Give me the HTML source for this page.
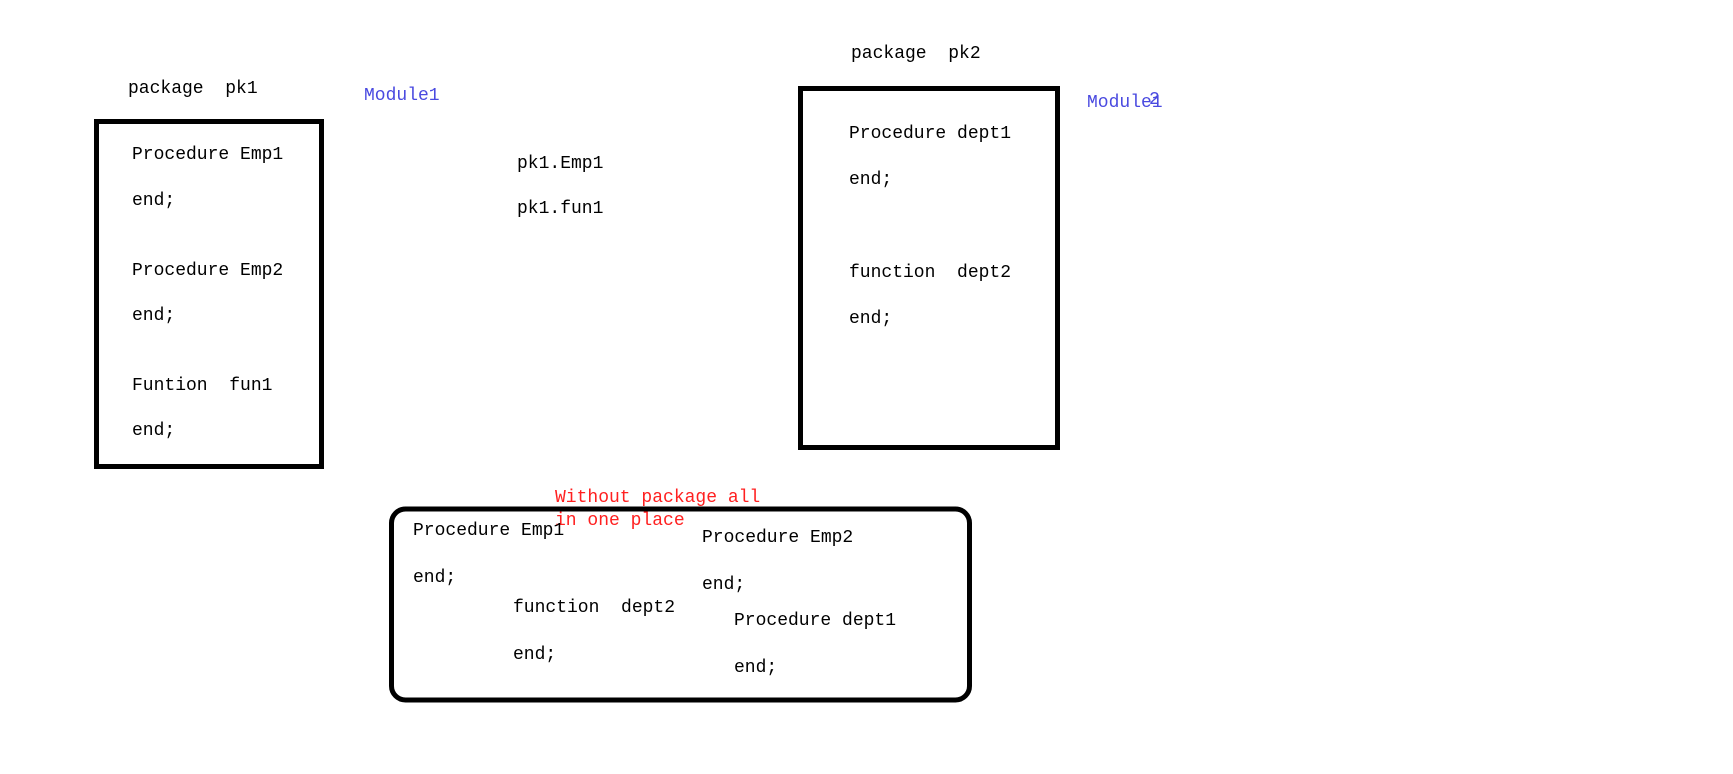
<!DOCTYPE html>
<html><head><meta charset="utf-8"><style>
html,body{margin:0;padding:0;background:#fff;}
svg{display:block;}
text{font-family:"Liberation Mono",monospace;font-size:18px;fill:#000;white-space:pre;}
.b{fill:#4a4ae0;}
.r{fill:#ff2020;}
</style></head><body>
<svg width="1733" height="774" viewBox="0 0 1733 774" xmlns="http://www.w3.org/2000/svg" xml:space="preserve">
<rect x="96.5" y="121.5" width="225" height="345" fill="none" stroke="#000" stroke-width="5"/>
<rect x="800.5" y="88.5" width="257" height="359" fill="none" stroke="#000" stroke-width="5"/>
<rect x="391.5" y="509" width="578" height="191" rx="14" fill="none" stroke="#000" stroke-width="5"/>

<text x="128" y="93">package  pk1</text>
<text x="364" y="100" class="b">Module1</text>
<text x="132" y="159">Procedure Emp1</text>
<text x="132" y="205">end;</text>
<text x="132" y="275">Procedure Emp2</text>
<text x="132" y="320">end;</text>
<text x="132" y="390">Funtion  fun1</text>
<text x="132" y="435">end;</text>

<text x="517" y="168">pk1.Emp1</text>
<text x="517" y="213">pk1.fun1</text>

<text x="851" y="58">package  pk2</text>
<text x="1087" y="107" class="b">Module1</text>
<text x="1149" y="104" class="b">2</text>
<text x="849" y="138">Procedure dept1</text>
<text x="849" y="184">end;</text>
<text x="849" y="277">function  dept2</text>
<text x="849" y="323">end;</text>

<text x="555" y="502" class="r">Without package all</text>
<text x="555" y="525" class="r">in one place</text>
<text x="413" y="535">Procedure Emp1</text>
<text x="413" y="582">end;</text>
<text x="513" y="612">function  dept2</text>
<text x="513" y="659">end;</text>
<text x="702" y="542">Procedure Emp2</text>
<text x="702" y="589">end;</text>
<text x="734" y="625">Procedure dept1</text>
<text x="734" y="672">end;</text>
</svg>
</body></html>
